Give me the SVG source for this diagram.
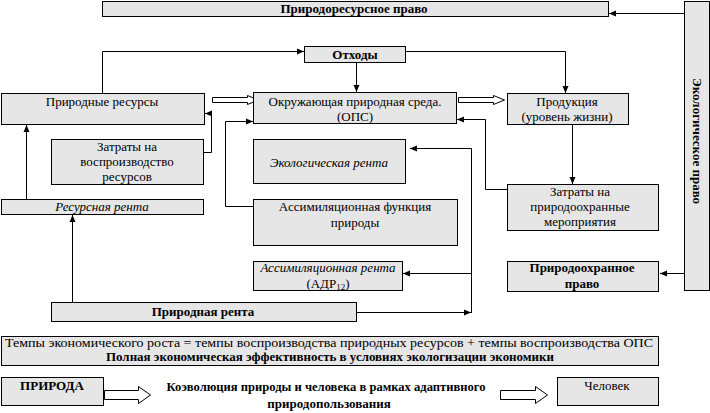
<svg xmlns="http://www.w3.org/2000/svg" width="710" height="413" viewBox="0 0 710 413">
<defs>
<style>
.b{fill:#e6e6e6;stroke:#000;stroke-width:1}
.t{font-family:"Liberation Serif","Times New Roman",serif;font-size:13px;fill:#000;text-anchor:middle}
.s{font-size:12px}
.bd{font-weight:bold}
.it{font-style:italic}
.c{fill:none;stroke:#000;stroke-width:1}
.h{fill:#fff;stroke:#000;stroke-width:1}
</style>
<marker id="a" markerUnits="userSpaceOnUse" markerWidth="7" markerHeight="7" refX="7" refY="3.5" orient="auto">
<path d="M0,0.5 L7,3.5 L0,6.5 z" fill="#000"/>
</marker>
</defs>
<rect width="710" height="413" fill="#fff"/>

<g id="connectors">
<path class="c" d="M684,13.5 L609,13.5" marker-end="url(#a)"/>
<path class="c" d="M684,273.5 L660,273.5" marker-end="url(#a)"/>
<path class="c" d="M102.5,93 L102.5,51.5 L304,51.5" marker-end="url(#a)"/>
<path class="c" d="M405,51.5 L565.5,51.5 L565.5,93" marker-end="url(#a)"/>
<path class="c" d="M356.5,62 L356.5,92" marker-end="url(#a)"/>
<path class="c" d="M572.5,124 L572.5,184" marker-end="url(#a)"/>
<path class="c" d="M507,189.5 L485.5,189.5 L485.5,119.5 L457,119.5" marker-end="url(#a)"/>
<path class="c" d="M203,152.5 L211.5,152.5 L211.5,113.5 L205,113.5" marker-end="url(#a)"/>
<path class="c" d="M253,206.5 L225.5,206.5 L225.5,121.5 L253,121.5" marker-end="url(#a)"/>
<path class="c" d="M26.5,199 L26.5,125" marker-end="url(#a)"/>
<path class="c" d="M72.5,302 L72.5,215" marker-end="url(#a)"/>
<path class="c" d="M357,312.5 L471,312.5" marker-end="url(#a)"/>
<path class="c" d="M471.5,313 L471.5,148.5 L410,148.5" marker-end="url(#a)"/>
<path class="c" d="M471.5,273.5 L403,273.5" marker-end="url(#a)"/>
<polygon class="h" points="212.5,97.5 247.5,97.5 247.5,95.5 258.5,100 247.5,104.5 247.5,102.5 212.5,102.5"/>
<polygon class="h" points="458.5,97.5 493.5,97.5 493.5,95.5 504.5,100 493.5,104.5 493.5,102.5 458.5,102.5"/>
<polygon class="h" points="104.5,390.5 138.5,390.5 138.5,386.5 150.5,395 138.5,403.5 138.5,399.5 104.5,399.5"/>
<polygon class="h" points="500.5,390.5 535.5,390.5 535.5,386.5 547.5,395 535.5,403.5 535.5,399.5 500.5,399.5"/>
</g>

<g id="n-prirodoresursnoe">
<rect class="b" x="102.5" y="1.5" width="506" height="15"/>
<text class="t bd" x="354" y="13">Природоресурсное право</text>
</g>

<g id="n-ekologicheskoe-pravo">
<rect class="b" x="684.5" y="1.5" width="25" height="289"/>
<text class="t bd" transform="translate(693,141) rotate(90)" x="0" y="0">Экологическое право</text>
</g>

<g id="n-othody">
<rect class="b" x="304.5" y="46.5" width="101" height="16"/>
<text class="t bd" x="355" y="59">Отходы</text>
</g>

<g id="n-prirodnye-resursy">
<rect class="b" x="1.5" y="93.5" width="203" height="31"/>
<text class="t" x="102" y="106">Природные ресурсы</text>
</g>

<g id="n-ops">
<rect class="b" x="253.5" y="92.5" width="203" height="31"/>
<text class="t" x="355" y="106">Окружающая природная среда.</text>
<text class="t" x="355" y="121">(ОПС)</text>
</g>

<g id="n-produkciya">
<rect class="b" x="507.5" y="93.5" width="121" height="31"/>
<text class="t" x="567" y="106">Продукция</text>
<text class="t" x="567" y="121">(уровень жизни)</text>
</g>

<g id="n-zatraty-vospr">
<rect class="b" x="51.5" y="139.5" width="152" height="45"/>
<text class="t" x="127" y="151">Затраты на</text>
<text class="t" x="127" y="166">воспроизводство</text>
<text class="t" x="127" y="181">ресурсов</text>
</g>

<g id="n-ekologicheskaya-renta">
<rect class="b" x="253.5" y="139.5" width="152" height="44"/>
<text class="t it" x="329" y="167">Экологическая рента</text>
</g>

<g id="n-zatraty-prirodoohr">
<rect class="b" x="507.5" y="184.5" width="151" height="46"/>
<text class="t" x="580" y="196">Затраты на</text>
<text class="t" x="580" y="211">природоохранные</text>
<text class="t" x="580" y="226">мероприятия</text>
</g>

<g id="n-resursnaya-renta">
<rect class="b" x="1.5" y="199.5" width="202" height="15"/>
<text class="t it" x="102" y="211">Ресурсная рента</text>
</g>

<g id="n-assim-funkciya">
<rect class="b" x="253.5" y="199.5" width="204" height="46"/>
<text class="t" x="355" y="211">Ассимиляционная функция</text>
<text class="t" x="355" y="227">природы</text>
</g>

<g id="n-assim-renta">
<rect class="b" x="253.5" y="261.5" width="149" height="29"/>
<text class="t it" x="328" y="272">Ассимиляционная рента</text>
<text class="t" x="328" y="288">(АДР<tspan font-size="9" dy="2">12</tspan><tspan dy="-2">)</tspan></text>
</g>

<g id="n-prirodoohrannoe-pravo">
<rect class="b" x="507.5" y="261.5" width="151" height="30"/>
<text class="t bd" x="582" y="272">Природоохранное</text>
<text class="t bd" x="582" y="288">право</text>
</g>

<g id="n-prirodnaya-renta">
<rect class="b" x="51.5" y="302.5" width="305" height="19"/>
<text class="t bd" x="203" y="316">Природная рента</text>
</g>

<g id="n-tempy">
<rect class="b" x="1.5" y="336.5" width="657" height="29"/>
<text class="t s" x="329" y="347" textLength="648" lengthAdjust="spacingAndGlyphs">Темпы экономического роста = темпы воспроизводства природных ресурсов + темпы воспроизводства ОПС</text>
<text class="t s bd" x="330" y="361" textLength="448" lengthAdjust="spacingAndGlyphs">Полная экономическая эффективность в условиях экологизации экономики</text>
</g>

<g id="n-priroda">
<rect class="b" x="1.5" y="377.5" width="102" height="28"/>
<text class="t bd" x="52" y="390">ПРИРОДА</text>
</g>

<g id="n-koevolyuciya">
<text class="t bd" x="326" y="391" textLength="319" lengthAdjust="spacingAndGlyphs">Коэволюция природы и человека в рамках адаптивного</text>
<text class="t bd" x="329" y="408">природопользования</text>
</g>

<g id="n-chelovek">
<rect class="b" x="557.5" y="377.5" width="101" height="28"/>
<text class="t" x="607" y="390">Человек</text>
</g>
</svg>
